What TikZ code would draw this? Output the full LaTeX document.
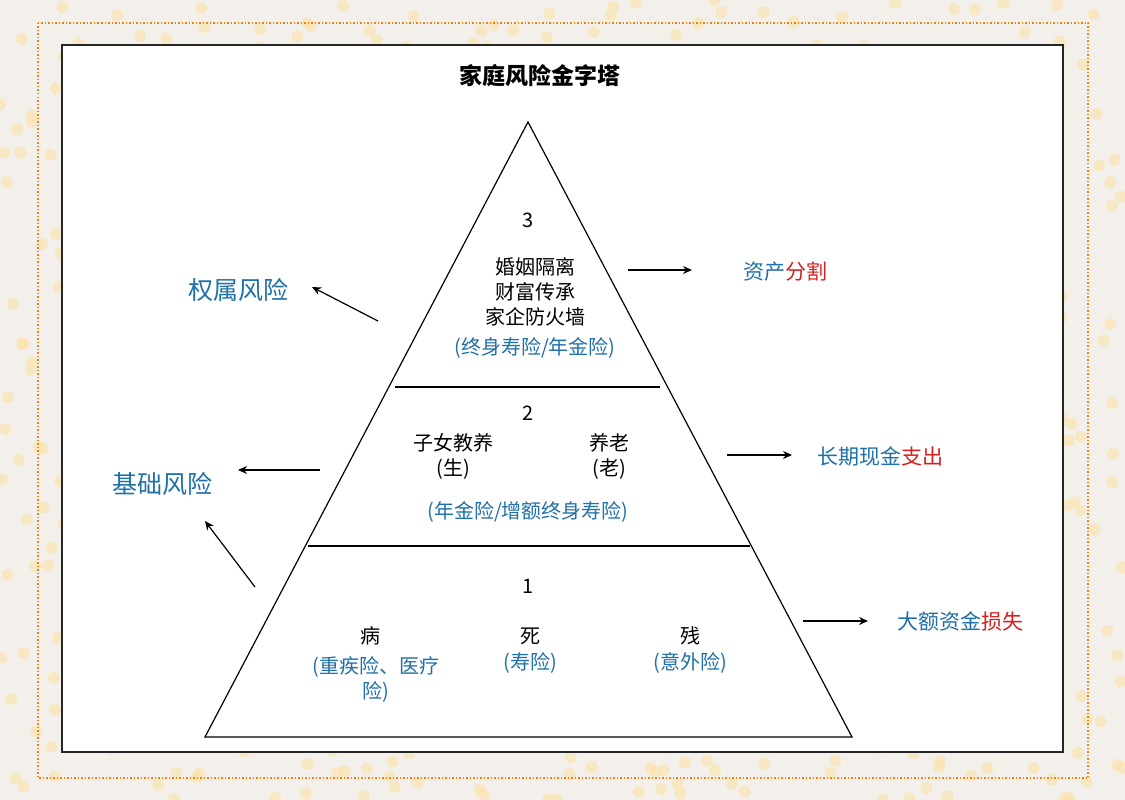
\documentclass[tikz,border=0pt]{standalone}
\usepackage{fontspec}
\setmainfont{Noto Sans CJK SC}
\usetikzlibrary{arrows.meta}
\definecolor{bl}{HTML}{1F70A8}
\definecolor{rd}{HTML}{D42020}
\definecolor{dotc}{HTML}{FBE2A8}
\definecolor{bgc}{HTML}{F3F0EC}
\begin{document}
\begin{tikzpicture}[x=1pt,y=-1pt,
  t/.style={font=\fontsize{20}{25}\selectfont,align=center,inner sep=0pt},
  lab/.style={font=\fontsize{21}{25}\selectfont,inner sep=0pt},
  big/.style={font=\fontsize{25}{29}\selectfont,text=bl,inner sep=0pt},
  arr/.style={-{Stealth[length=9pt,width=8pt]},line width=1.2pt}]
\useasboundingbox (0,0) rectangle (1125,800);
\fill[bgc] (0,0) rectangle (1125,800);
\pgfmathsetseed{7}
\foreach \i in {1,...,900}{
  \pgfmathsetmacro{\xx}{rnd*1125}\pgfmathsetmacro{\yy}{rnd*800}
  \fill[dotc,opacity=0.6] (\xx,\yy) circle (6);
}
\draw[orange!80!brown,line width=1.5pt,dotted] (38,23) rectangle (1088,778);
\fill[white] (62,45) rectangle (1063,752);
\draw[black!85,line width=2pt] (62,45) rectangle (1063,752);
\node[font=\bfseries\fontsize{23}{27}\selectfont] (title) at (540,76) {家庭风险金字塔};
\coordinate (A) at (528,122); \coordinate (B) at (205,737); \coordinate (C) at (852,737);
\draw[line width=1.2pt] (A) -- (B) -- (C) -- cycle;
\coordinate (l1a) at (395,387); \coordinate (l1b) at (660,387);
\coordinate (l2a) at (308,546); \coordinate (l2b) at (750,546);
\draw[line width=1.2pt] (l1a) -- (l1b); \draw[line width=1.2pt] (l2a) -- (l2b);
% top
\node[t] (n3) at (528,220) {3};
\node[t] (top) at (535,292) {婚姻隔离\\财富传承\\家企防火墙};
\node[t,text=bl] (topi) at (535,348) {(终身寿险/年金险)};
% middle
\node[t] (n2) at (528,413) {2};
\node[t] (edu) at (453,456) {子女教养\\(生)};
\node[t] (old) at (609,456) {养老\\(老)};
\node[t,text=bl] (midi) at (528,512) {(年金险/增额终身寿险)};
% bottom
\node[t] (n1) at (528,586) {1};
\node[t] (bing) at (370,636) {病};
\node[t,text=bl] (bingi) at (376,679) {(重疾险、医疗\\险)};
\node[t] (si) at (530,636) {死};
\node[t,text=bl] (sii) at (530,663) {(寿险)};
\node[t] (can) at (690,636) {残};
\node[t,text=bl] (cani) at (690,663) {(意外险)};
% side labels
\node[big] (qs) at (238,290) {权属风险};
\node[big] (jc) at (162,484) {基础风险};
\node[lab] (zc) at (785,272) {\textcolor{bl}{资产}\textcolor{rd}{分割}};
\node[lab] (cq) at (880,456) {\textcolor{bl}{长期现金}\textcolor{rd}{支出}};
\node[lab] (de) at (960,621) {\textcolor{bl}{大额资金}\textcolor{rd}{损失}};
\coordinate (a1s) at (628,270); \coordinate (a1e) at (692,270);
\coordinate (a2s) at (378,321); \coordinate (a2e) at (312,287);
\coordinate (a3s) at (320,470); \coordinate (a3e) at (238,470);
\coordinate (a4s) at (255,587); \coordinate (a4e) at (205,521);
\coordinate (a5s) at (727,455); \coordinate (a5e) at (792,455);
\coordinate (a6s) at (803,621); \coordinate (a6e) at (868,621);
\foreach \k in {1,...,6}{\draw[arr] (a\k s) -- (a\k e);}
\end{tikzpicture}
\end{document}
